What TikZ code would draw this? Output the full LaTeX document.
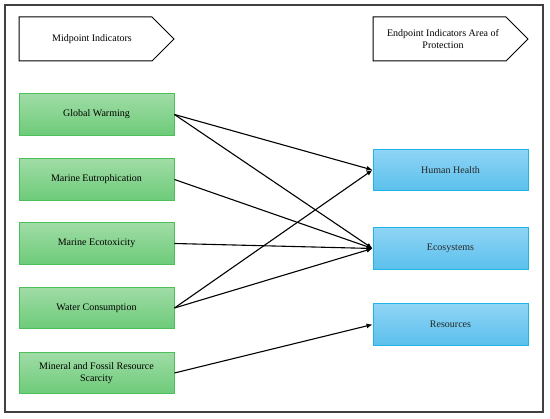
\documentclass[tikz,border=0pt]{standalone}
\usepackage{fontspec}
\setmainfont{Liberation Serif}
\usepackage{tikz}
\usetikzlibrary{arrows.meta,positioning,shadings}

\definecolor{gboxtop}{HTML}{A0DCA6}
\definecolor{gboxbot}{HTML}{6DCB79}
\definecolor{gboxline}{HTML}{4DC05B}
\definecolor{bboxtop}{HTML}{8FD4F5}
\definecolor{bboxbot}{HTML}{5BC0EC}
\definecolor{bboxline}{HTML}{1FB3E8}
\definecolor{frameline}{HTML}{404040}

\begin{document}
\begin{tikzpicture}[
  x=1pt, y=-1pt,
  link/.style={-{Latex[length=6pt,width=5pt]}, line width=1.1pt, black},
  hdr/.style={line width=1pt, black},
  midbox/.style={draw=gboxline, line width=0.9pt, top color=gboxtop, bottom color=gboxbot,
                 minimum width=155pt, minimum height=41.5pt, inner sep=0pt, align=center},
  endbox/.style={draw=bboxline, line width=0.9pt, top color=bboxtop, bottom color=bboxbot,
                 minimum width=155pt, minimum height=41.5pt, inner sep=0pt, align=center,
                 text=black!85},
  every node/.style={font=\fontsize{10}{12.5}\selectfont}]

\useasboundingbox (0,0) rectangle (550,419);

% ---- outer frame --------------------------------------------------------
\draw[line width=1.4pt, frameline] (5,5) rectangle (543,412);

% ---- the two headers ----------------------------------------------------
\draw[hdr] (19,17) -- (152,17) -- (174,39) -- (152,61) -- (19,61) -- cycle;
\node (midhdr) at (92,39) {Midpoint Indicators};
\draw[hdr] (373,17) -- (506,17) -- (528,39) -- (506,61) -- (373,61) -- cycle;
\node[align=center] (endhdr) at (443,39) {Endpoint Indicators Area of\\Protection};

% ---- midpoint indicators ------------------------------------------------
\node[midbox] (gw)  at (96.5,114.5) {Global Warming};
\node[midbox] (meu) at (96.5,179.5) {Marine Eutrophication};
\node[midbox] (mec) at (96.5,243.5) {Marine Ecotoxicity};
\node[midbox] (wc)  at (96.5,308)   {Water Consumption};
\node[midbox] (mfr) at (96.5,373)   {Mineral and Fossil Resource\\Scarcity};

% ---- areas of protection ------------------------------------------------
\node[endbox] (hh)  at (450.5,170)   {Human Health};
\node[endbox] (eco) at (450.5,248.5) {Ecosystems};
\node[endbox] (res) at (450.5,324.5) {Resources};

% ---- links --------------------------------------------------------------
\draw[link] (gw.east)  -- (hh.west);
\draw[link] (gw.east)  -- (eco.west);
\draw[link] (meu.east) -- (eco.west);
\draw[link] (mec.east) -- (eco.west);
\draw[link] (wc.east)  -- (hh.west);
\draw[link] (wc.east)  -- (eco.west);
\draw[link] (mfr.east) -- (res.west);

\end{tikzpicture}
\end{document}
